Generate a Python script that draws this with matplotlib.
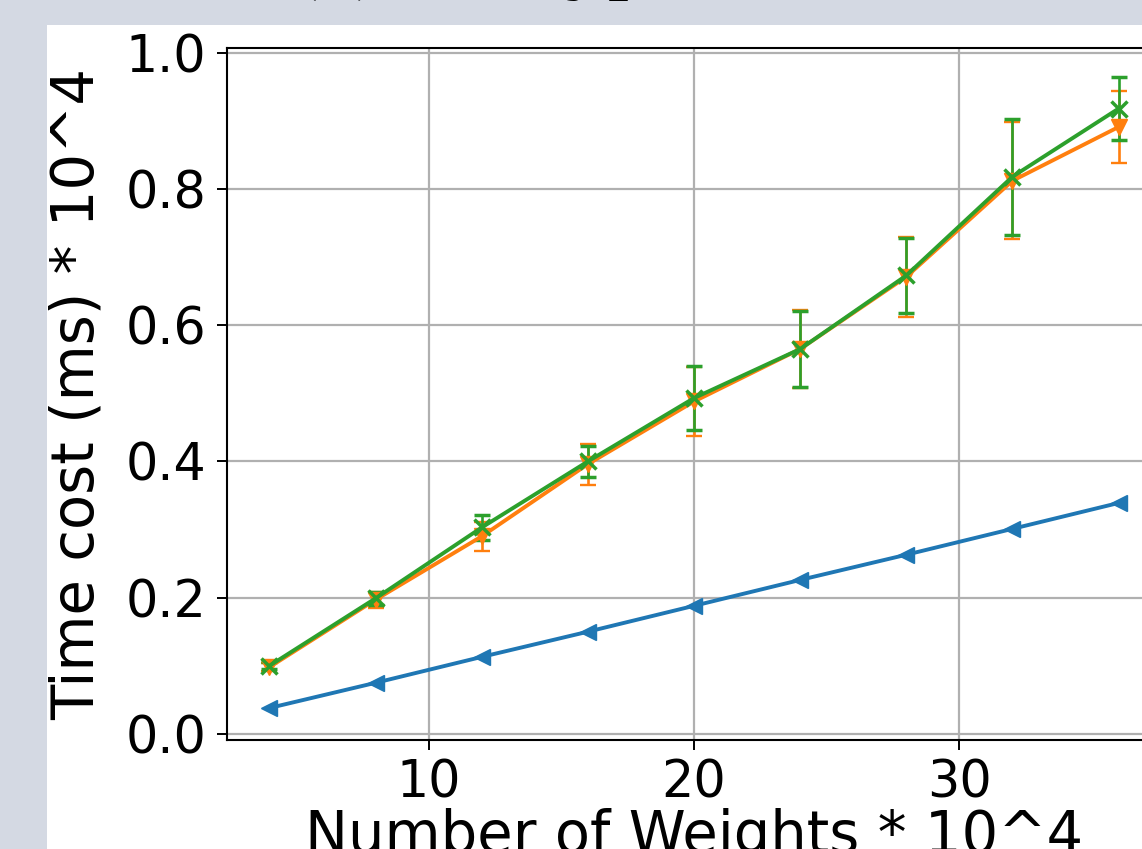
import matplotlib
matplotlib.use("Agg")
import matplotlib.pyplot as plt
from matplotlib.patches import Rectangle

# number of weights (* 10^4)
weights = [4, 8, 12, 16, 20, 24, 28, 32, 36]

# time cost (ms * 10^4)
blue_cost = [0.038, 0.075, 0.113, 0.150, 0.188, 0.226, 0.263, 0.301, 0.339]
orange_cost = [0.098, 0.197, 0.290, 0.396, 0.488, 0.565, 0.671, 0.812, 0.891]
orange_err = [0.006, 0.012, 0.021, 0.030, 0.050, 0.057, 0.059, 0.086, 0.053]
green_cost = [0.100, 0.199, 0.303, 0.400, 0.493, 0.565, 0.673, 0.818, 0.918]
green_err = [0.005, 0.010, 0.018, 0.023, 0.047, 0.056, 0.055, 0.085, 0.046]

yticks = [0.0, 0.2, 0.4, 0.6, 0.8, 1.0]
xticks = [10, 20, 30]

W, H = 1142, 849
fig = plt.figure(figsize=(W / 100, H / 100), dpi=100, facecolor="#d4d9e3")

# white page area of the cropped figure
fig.add_artist(Rectangle((47 / W, 0), 1, (H - 25) / H, transform=fig.transFigure,
                         facecolor="white", edgecolor="none", zorder=0))

# caption, only its descenders show at the top edge
fig.text(290 / W, 1 + 17 / H, "(c) Encryption", family="Liberation Serif",
         fontsize=61, ha="left", va="baseline", color="black")

ax = fig.add_axes([227 / W, (H - 740) / H, (1161 - 227) / W, (740 - 48) / H])

ax.plot(weights, blue_cost, color="tab:blue", marker="<", markersize=12, lw=2.8)
ax.errorbar(weights, orange_cost, yerr=orange_err, color="tab:orange", marker="v",
            markersize=12, lw=2.8, elinewidth=1.9, capsize=5.8, capthick=1.7)
ax.errorbar(weights, green_cost, yerr=green_err, color="tab:green", marker="x",
            markersize=12, markeredgewidth=2.5, lw=2.8, elinewidth=1.9,
            capsize=5.8, capthick=1.7)

ax.set_xlim(2.4, 37.6)
ax.set_ylim(-0.009, 1.007)
ax.set_xticks(xticks)
ax.set_yticks(yticks)
ax.set_yticklabels([f"{t:.1f}" for t in yticks])
ax.grid(True, color="#b0b0b0", lw=1.6)
ax.set_axisbelow(True)
for s in ax.spines.values():
    s.set_linewidth(1.5)
ax.tick_params(labelsize=36.5, length=7, width=1.4)
ax.tick_params(axis="x", pad=6.5)
ax.tick_params(axis="y", pad=8)

ax.set_xlabel("Number of Weights * 10^4", fontsize=41.5)
ax.set_ylabel("Time cost (ms) * 10^4", fontsize=41.5)
ax.xaxis.set_label_coords((694 - 227) / 934, (740 - 808) / 692)
ax.yaxis.set_label_coords((106 - 227) / 934, 0.5)

fig.savefig("out.png", dpi=100, facecolor=fig.get_facecolor())
